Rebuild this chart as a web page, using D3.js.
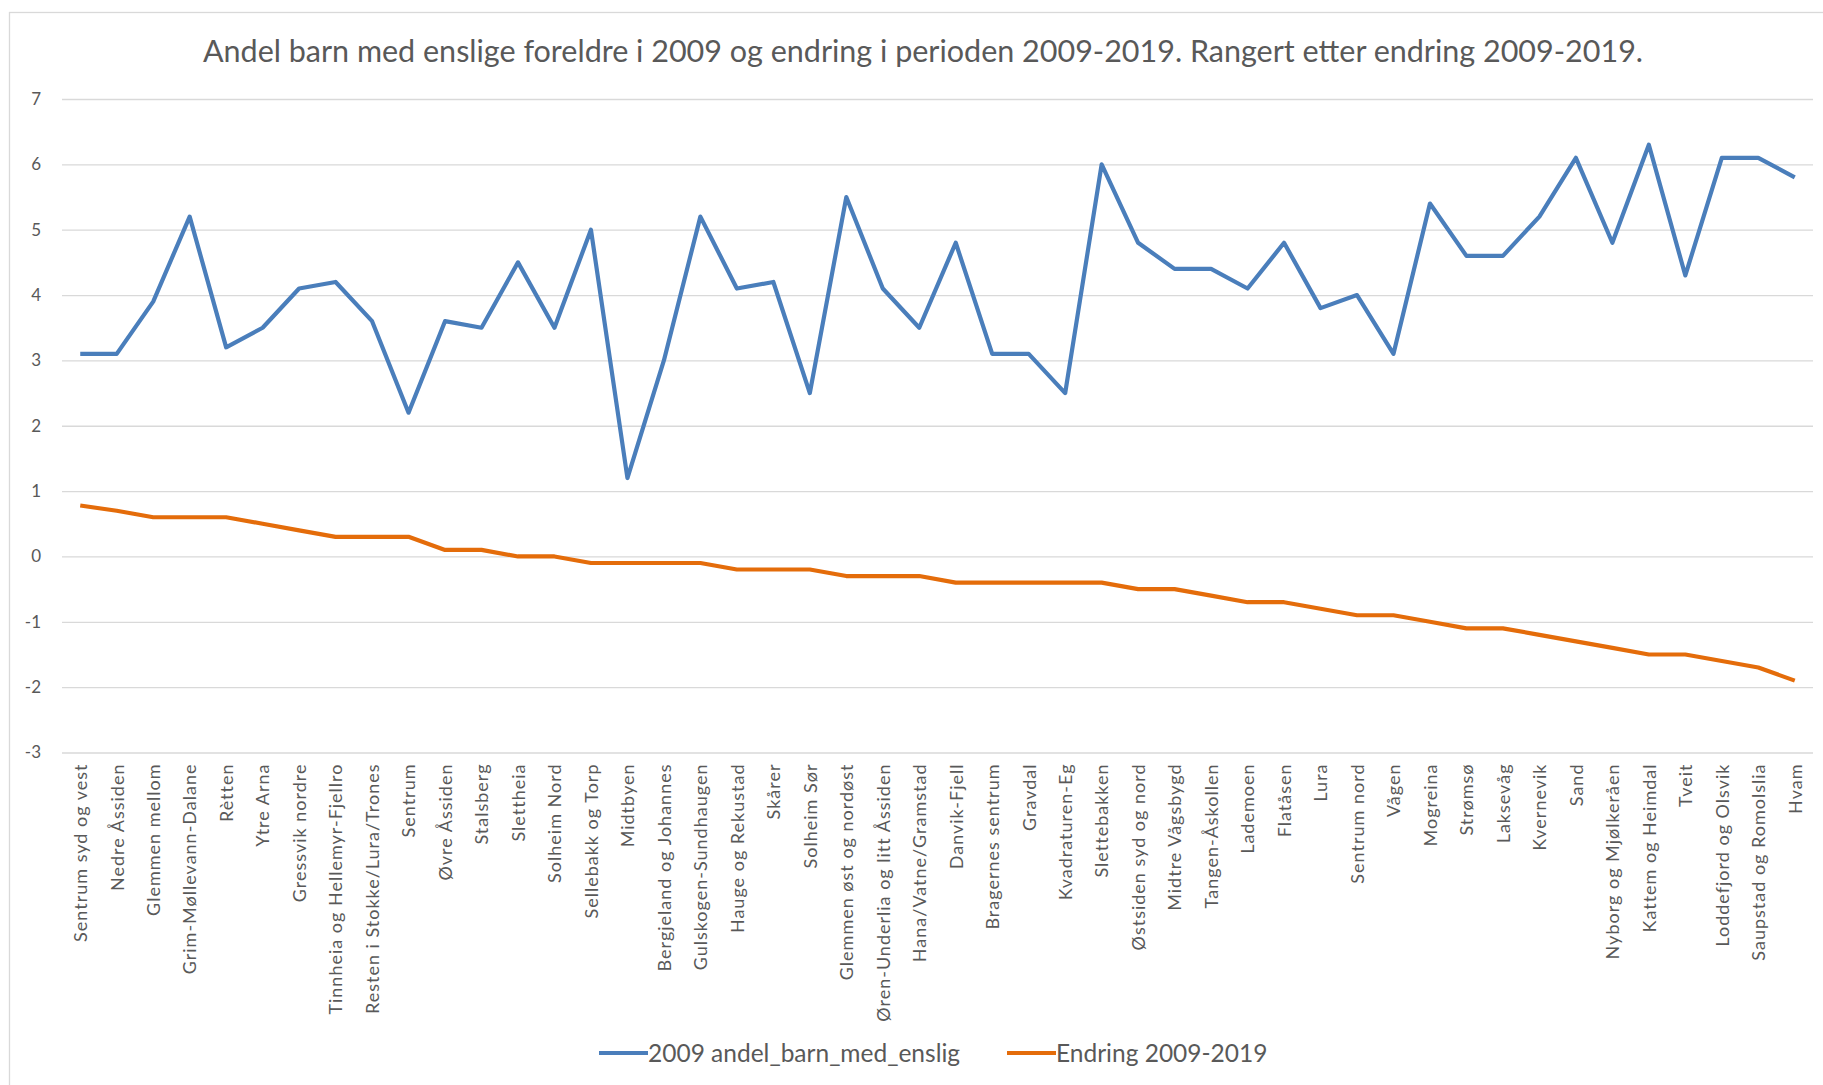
<!DOCTYPE html>
<html>
<head>
    <meta charset="utf-8">
    <title>Andel barn med enslige foreldre</title>
    <style>
        html, body {
            margin: 0;
            padding: 0;
            background-color: white;
        }
        svg {
            display: block;
            font-family: Lato, "Open Sans", sans-serif;
        }
        .grid line {
            stroke: #d9d9d9;
            stroke-width: 1.3;
        }
        .tick text {
            fill: #595959;
        }
    </style>
</head>
<body>
<script src="https://cdn.jsdelivr.net/npm/d3@7"></script>
<script>
    // Kategorier (rangert etter endring 2009-2019)
    var omrader = [
        "Sentrum syd og vest", "Nedre Åssiden", "Glemmen mellom", "Grim-Møllevann-Dalane",
        "Rètten", "Ytre Arna", "Gressvik nordre", "Tinnheia og Hellemyr-Fjellro",
        "Resten i Stokke/Lura/Trones", "Sentrum", "Øvre Åssiden", "Stalsberg",
        "Slettheia", "Solheim Nord", "Sellebakk og Torp", "Midtbyen",
        "Bergjeland og Johannes", "Gulskogen-Sundhaugen", "Hauge og Rekustad", "Skårer",
        "Solheim Sør", "Glemmen øst og nordøst", "Øren-Underlia og litt Åssiden", "Hana/Vatne/Gramstad",
        "Danvik-Fjell", "Bragernes sentrum", "Gravdal", "Kvadraturen-Eg",
        "Slettebakken", "Østsiden syd og nord", "Midtre Vågsbygd", "Tangen-Åskollen",
        "Lademoen", "Flatåsen", "Lura", "Sentrum nord",
        "Vågen", "Mogreina", "Strømsø", "Laksevåg",
        "Kvernevik", "Sand", "Nyborg og Mjølkeråen", "Kattem og Heimdal",
        "Tveit", "Loddefjord og Olsvik", "Saupstad og Romolslia", "Hvam"
    ];

    // 2009 andel_barn_med_enslig
    var andel2009 = [
        3.1, 3.1, 3.9, 5.2, 3.2, 3.5, 4.1, 4.2, 3.6, 2.2, 3.6, 3.5,
        4.5, 3.5, 5.0, 1.2, 3.0, 5.2, 4.1, 4.2, 2.5, 5.5, 4.1, 3.5,
        4.8, 3.1, 3.1, 2.5, 6.0, 4.8, 4.4, 4.4, 4.1, 4.8, 3.8, 4.0,
        3.1, 5.4, 4.6, 4.6, 5.2, 6.1, 4.8, 6.3, 4.3, 6.1, 6.1, 5.8
    ];

    // Endring 2009-2019
    var endring = [
        0.78, 0.7, 0.6, 0.6, 0.6, 0.5, 0.4, 0.3, 0.3, 0.3, 0.1, 0.1,
        0, 0, -0.1, -0.1, -0.1, -0.1, -0.2, -0.2, -0.2, -0.3, -0.3, -0.3,
        -0.4, -0.4, -0.4, -0.4, -0.4, -0.5, -0.5, -0.6, -0.7, -0.7, -0.8, -0.9,
        -0.9, -1.0, -1.1, -1.1, -1.2, -1.3, -1.4, -1.5, -1.5, -1.6, -1.7, -1.9
    ];

    var yTicks = [-3, -2, -1, 0, 1, 2, 3, 4, 5, 6, 7];

    var serier = [
        {navn: "2009 andel_barn_med_enslig", verdier: andel2009, farge: "#4a7ebb"},
        {navn: "Endring 2009-2019", verdier: endring, farge: "#e46c0a"}
    ];

    var width = 1823;
    var height = 1085;
    var plot = {left: 62, right: 1813, top: 99, bottom: 752.5};

    var svg = d3.select("body")
        .append("svg")
        .attr("width", width)
        .attr("height", height);

    // ramme rundt diagrammet
    svg.append("rect")
        .attr("x", 9.5)
        .attr("y", 12.5)
        .attr("width", width + 20)
        .attr("height", height + 20)
        .attr("fill", "white")
        .attr("stroke", "#d9d9d9")
        .attr("stroke-width", 1.3);

    svg.append("text")
        .attr("x", 923)
        .attr("y", 62)
        .attr("text-anchor", "middle")
        .attr("font-size", 30.5)
        .attr("fill", "#595959")
        .text("Andel barn med enslige foreldre i 2009 og endring i perioden 2009-2019. Rangert etter endring 2009-2019.");

    var x = d3.scalePoint()
        .domain(omrader)
        .range([plot.left, plot.right])
        .padding(0.5);

    var y = d3.scaleLinear()
        .domain([-3, 7])
        .range([plot.bottom, plot.top]);

    // y-akse med rutenett
    var yAxis = svg.append("g")
        .attr("class", "grid")
        .attr("transform", "translate(" + plot.left + ",0)")
        .call(d3.axisLeft(y)
            .tickValues(yTicks)
            .tickSize(-(plot.right - plot.left))
            .tickPadding(21)
            .tickFormat(function(d) { return String(d); }));
    yAxis.select(".domain").remove();
    yAxis.selectAll("text")
        .attr("font-size", 17)
        .attr("font-family", "Lato, sans-serif");

    // x-akse med roterte etiketter
    var xAxis = svg.append("g")
        .attr("transform", "translate(0," + plot.bottom + ")")
        .call(d3.axisBottom(x).tickSize(0));
    xAxis.select(".domain").remove();
    xAxis.selectAll("text")
        .attr("transform", "rotate(-90)")
        .attr("x", -11)
        .attr("y", 0)
        .attr("dy", "0.35em")
        .attr("text-anchor", "end")
        .attr("font-size", 18)
        .attr("letter-spacing", 1)
        .attr("font-family", "Lato, sans-serif");

    var linje = d3.line()
        .x(function(d, i) { return x(omrader[i]); })
        .y(function(d) { return y(d); });

    svg.selectAll(".serie")
        .data(serier)
        .enter()
        .append("path")
        .attr("class", "serie")
        .attr("d", function(s) { return linje(s.verdier); })
        .attr("fill", "none")
        .attr("stroke", function(s) { return s.farge; })
        .attr("stroke-width", 4.2)
        .attr("stroke-linejoin", "round");

    // tegnforklaring
    var legendPos = [599, 1007];
    var legend = svg.selectAll(".legend")
        .data(serier)
        .enter()
        .append("g")
        .attr("class", "legend")
        .attr("transform", function(s, i) { return "translate(" + legendPos[i] + ",1053)"; });
    legend.append("line")
        .attr("x1", 0)
        .attr("x2", 49)
        .attr("stroke", function(s) { return s.farge; })
        .attr("stroke-width", 4.2);
    legend.append("text")
        .attr("x", 49)
        .attr("dy", "0.35em")
        .attr("font-size", 24.5)
        .attr("fill", "#595959")
        .text(function(s) { return s.navn; });
</script>
</body>
</html>
